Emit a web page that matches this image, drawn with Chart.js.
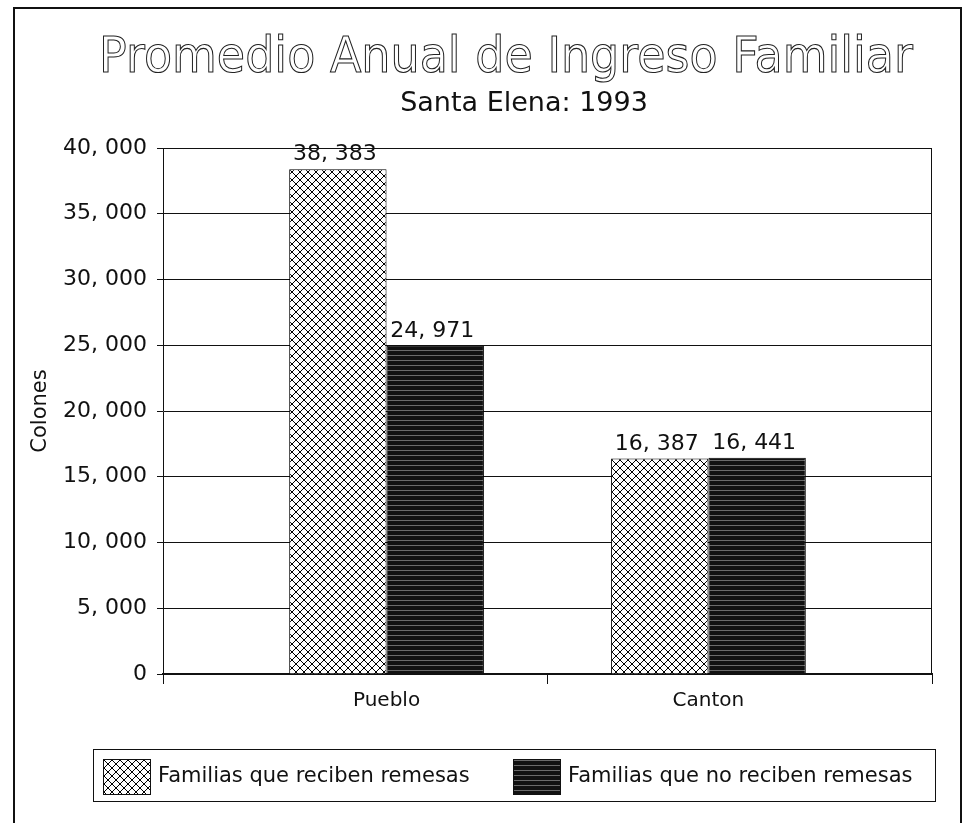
<!DOCTYPE html>
<html>
<head>
<meta charset="utf-8">
<script src="https://cdn.jsdelivr.net/npm/chart.js@4.4.1/dist/chart.umd.min.js"></script>
<style>
  html, body { margin: 0; padding: 0; background: #fff; }
  #wrap { width: 964px; height: 823px; }
</style>
</head>
<body>
<div id="wrap"><canvas id="chart" width="964" height="823"></canvas></div>
<script>
// --- DATA ---
const categories = ['Pueblo', 'Canton'];
const seriesNames = ['Familias que reciben remesas', 'Familias que no reciben remesas'];
const conRemesas = [38383, 16387];
const sinRemesas = [24971, 16441];
const yTicks = [0, 5000, 10000, 15000, 20000, 25000, 30000, 35000, 40000];

const titleText = 'Promedio Anual de Ingreso Familiar';
const subtitleText = 'Santa Elena: 1993';

const FONT = "'DejaVu Sans', sans-serif";
const INK = '#111';
// the old chart leaves extra room at both ends of the category axis
const X_MARGIN = 0.6945;
const X_MIN = -X_MARGIN;
const X_MAX = categories.length - 1 + X_MARGIN;

// "38, 383" style numbers
function fmt(v) {
  return v.toLocaleString('en-US').replace(/,/g, ', ');
}

// --- FILL PATTERNS ---
function crossHatch() {
  const c = document.createElement('canvas');
  c.width = 8; c.height = 8;
  const g = c.getContext('2d');
  g.fillStyle = '#fff';
  g.fillRect(0, 0, 8, 8);
  g.strokeStyle = '#000';
  g.lineWidth = 1;
  g.beginPath();
  g.moveTo(0, 0); g.lineTo(8, 8);
  g.moveTo(8, 0); g.lineTo(0, 8);
  g.stroke();
  return g.createPattern(c, 'repeat');
}

function darkLines() {
  const c = document.createElement('canvas');
  c.width = 4; c.height = 5;
  const g = c.getContext('2d');
  g.fillStyle = '#111';
  g.fillRect(0, 0, 4, 5);
  g.fillStyle = '#6a6a6a';
  g.fillRect(0, 0, 4, 1);
  return g.createPattern(c, 'repeat');
}

// --- PLUGINS ---
const valueLabels = {
  id: 'valueLabels',
  afterDatasetsDraw(chart) {
    const ctx = chart.ctx;
    ctx.save();
    ctx.font = '22px ' + FONT;
    ctx.fillStyle = INK;
    ctx.textAlign = 'center';
    ctx.textBaseline = 'alphabetic';
    chart.data.datasets.forEach((ds, i) => {
      chart.getDatasetMeta(i).data.forEach((bar, j) => {
        ctx.fillText(fmt(ds.data[j].y), bar.x - 3, bar.y - 9);
      });
    });
    ctx.restore();
  }
};

const decorations = {
  id: 'decorations',
  afterDraw(chart) {
    const ctx = chart.ctx;
    const a = chart.chartArea;
    ctx.save();

    // titles (outlined lettering)
    ctx.textAlign = 'center';
    ctx.textBaseline = 'alphabetic';
    ctx.save();
    ctx.translate(506, 72);
    ctx.scale(1, 1.08);
    ctx.font = '46px ' + FONT;
    ctx.strokeStyle = '#222';
    ctx.lineWidth = 1;
    ctx.strokeText(titleText, 0, 0);
    ctx.restore();
    ctx.font = '27px ' + FONT;
    ctx.fillStyle = INK;
    ctx.fillText(subtitleText, 524, 111);

    // plot box top/right
    ctx.strokeStyle = INK;
    ctx.lineWidth = 1;
    ctx.beginPath();
    ctx.moveTo(a.left, a.top + 0.5);
    ctx.lineTo(a.right - 0.5, a.top + 0.5);
    ctx.lineTo(a.right - 0.5, a.bottom);
    ctx.stroke();

    // legend
    ctx.strokeRect(93.5, 749.5, 842, 52);
    const itemX = [103, 513];
    ctx.font = '21px ' + FONT;
    ctx.textAlign = 'left';
    ctx.textBaseline = 'middle';
    chart.data.datasets.forEach((ds, i) => {
      ctx.fillStyle = ds.backgroundColor;
      ctx.fillRect(itemX[i], 759, 47, 35);
      ctx.strokeRect(itemX[i] + 0.5, 759.5, 47, 35);
      ctx.fillStyle = INK;
      ctx.fillText(ds.label, itemX[i] + 55, 777);
    });

    // outer page frame
    ctx.lineWidth = 2;
    ctx.strokeRect(14, 8, 947, 820);
    ctx.restore();
  }
};

// --- CHART ---
new Chart(document.getElementById('chart'), {
  type: 'bar',
  data: {
    datasets: [
      {
        label: seriesNames[0],
        data: conRemesas.map((v, i) => ({ x: i, y: v })),
        backgroundColor: crossHatch(),
        borderColor: '#000',
        borderWidth: 1
      },
      {
        label: seriesNames[1],
        data: sinRemesas.map((v, i) => ({ x: i, y: v })),
        backgroundColor: darkLines(),
        borderColor: '#000',
        borderWidth: 1
      }
    ]
  },
  options: {
    responsive: false,
    animation: false,
    devicePixelRatio: 1,
    layout: { padding: { left: 14, right: 32, top: 148, bottom: 99 } },
    datasets: { bar: { categoryPercentage: 0.605, barPercentage: 1 } },
    scales: {
      x: {
        type: 'linear',
        offset: false,
        min: X_MIN,
        max: X_MAX,
        afterBuildTicks(scale) { scale.ticks = [X_MIN, (X_MIN + X_MAX) / 2, X_MAX].map(v => ({ value: v })); },
        grid: { offset: false, drawOnChartArea: false, color: INK, tickLength: 10 },
        border: { color: INK, width: 2 },
        ticks: { display: false },
        afterFit(scale) { scale.height = 10; }
      },
      names: {
        type: 'linear',
        position: 'bottom',
        offset: false,
        min: X_MIN,
        max: X_MAX,
        afterBuildTicks(scale) { scale.ticks = categories.map((c, i) => ({ value: i })); },
        grid: { display: false, drawTicks: false, offset: false },
        border: { display: false },
        ticks: { color: INK, font: { family: FONT, size: 20 }, padding: 5, callback: v => categories[v] },
        afterFit(scale) { scale.height = 40; }
      },
      y: {
        min: 0,
        max: 40000,
        afterBuildTicks(scale) { scale.ticks = yTicks.map(v => ({ value: v })); },
        grid: { color: INK, tickLength: 6 },
        border: { color: INK, width: 1 },
        ticks: { color: INK, font: { family: FONT, size: 22 }, padding: 10, callback: v => fmt(v) },
        title: { display: true, text: 'Colones', color: INK, font: { family: FONT, size: 21 }, padding: { top: 14, bottom: 0 } },
        afterFit(scale) { scale.width = 149; }
      }
    },
    plugins: {
      legend: { display: false },
      tooltip: { enabled: false }
    }
  },
  plugins: [valueLabels, decorations]
});
</script>
</body>
</html>
